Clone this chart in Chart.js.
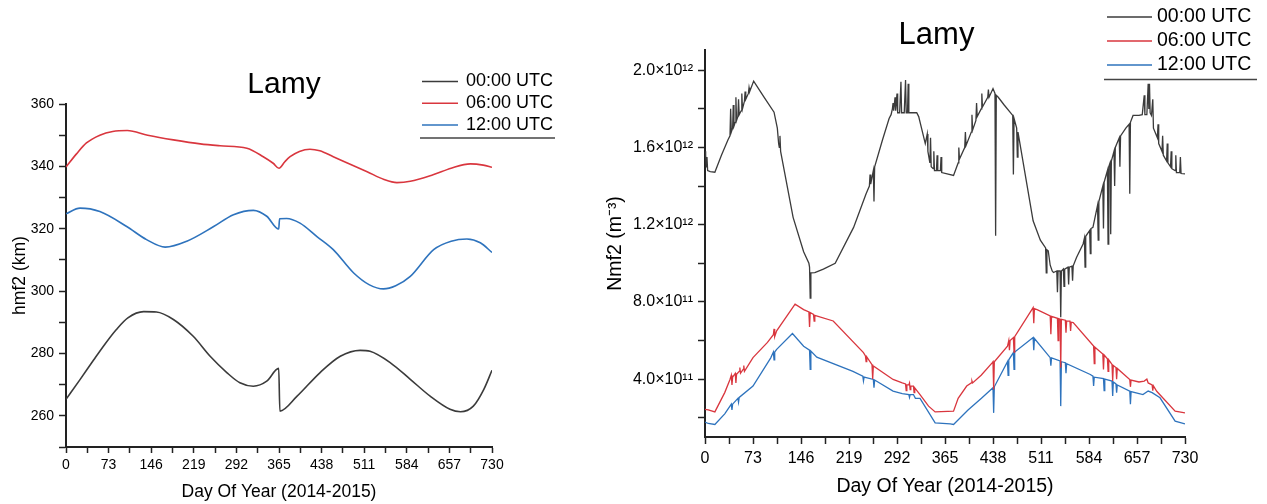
<!DOCTYPE html>
<html>
<head>
<meta charset="utf-8">
<script src="https://cdn.jsdelivr.net/npm/chart.js@4.4.1/dist/chart.umd.min.js"></script>
<style>
  body { margin: 0; background: #fff; }
  #wrap { position: relative; width: 1267px; height: 504px; }
  #hmChart { position: absolute; left: 0; top: 0; }
  #nmChart { position: absolute; left: 600px; top: 0; }
</style>
</head>
<body>
<div id="wrap">
  <canvas id="hmChart" width="600" height="504"></canvas>
  <canvas id="nmChart" width="667" height="504"></canvas>
</div>
<script>
const seriesNames = ['00:00 UTC', '06:00 UTC', '12:00 UTC'];
const seriesColors = ['#3b3b3b', '#d9363e', '#2e73bd'];

const xTickDays = [0, 73, 146, 219, 292, 365, 438, 511, 584, 657, 730];
const hmTicks = [260, 280, 300, 320, 340, 360];
const nmTicks = [4, 8, 12, 16, 20]; // in 1e11 m^-3
const nmTickLabels = ['4.0×10¹¹', '8.0×10¹¹', '1.2×10¹²', '1.6×10¹²', '2.0×10¹²'];

// hmF2 (km)
const hmDays00 = [0, 24, 47, 66, 86, 106, 133, 155, 184, 218, 247, 276, 298, 321, 344, 364.5, 366.5, 396, 435, 470, 504, 521, 556, 590, 624, 658, 676, 698, 716, 730];
const hmVals00 = [265.3, 271.6, 277.8, 282.8, 287.6, 291.4, 293.4, 293.3, 290.9, 285.5, 279.1, 273.8, 270.6, 269.5, 271.1, 275.2, 261.5, 266.3, 273.8, 279.1, 281, 280.7, 277, 271.7, 266.3, 262.1, 261.3, 263.1, 268.5, 274.6];
const hmDays06 = [0, 18, 35, 58, 80, 105, 140, 184, 230, 264, 310, 338, 355, 365, 375, 384, 400, 418, 435, 458, 487, 516, 545, 567, 590, 629, 660, 693, 715, 730];
const hmVals06 = [339.8, 344, 347.5, 350, 351.2, 351.5, 350, 348.5, 347.2, 346.6, 345.8, 343.1, 341, 339.4, 341.5, 343.1, 344.8, 345.5, 345, 343.1, 340.7, 338.3, 335.8, 334.8, 335.2, 337.3, 339.4, 340.8, 340.4, 339.7];
const hmDays12 = [0, 24, 58, 104, 138, 170, 207, 253, 287, 321, 344, 364.5, 366, 378, 401, 430, 458, 493, 520, 544, 565, 590, 630, 660, 687, 710, 730];
const hmVals12 = [324.8, 326.6, 325.5, 320.7, 316.5, 314.1, 316, 320.7, 324.5, 325.9, 324, 319.9, 323.2, 323.3, 321.8, 317.5, 313.3, 305.8, 302, 300.7, 301.7, 304.7, 313.3, 316, 316.7, 315.5, 312.4];

// NmF2, [day, value in 1e12 m^-3]
const nm00 = [[0,1.58],[1,1.56],[2,1.50],[3,1.55],[4,1.48],[8,1.475],[15,1.472],[25,1.56],[35,1.64],[38,1.66],[39,1.80],[40,1.68],[42,1.70],[43,1.82],[44,1.71],[46,1.73],[47,1.86],[48,1.74],[50,1.76],[51,1.85],[52,1.77],[55,1.79],[56,1.88],[57,1.80],[60,1.84],[61,1.89],[62,1.85],[66,1.88],[67,1.91],[68,1.89],[74,1.944],[90,1.86],[105,1.783],[110,1.70],[112,1.62],[113,1.60],[114,1.66],[115,1.58],[134,1.238],[150,1.06],[158,1.0],[159,0.98],[160,0.82],[161,0.95],[167,0.952],[180,0.97],[198,1.0],[226,1.186],[245,1.36],[250,1.40],[251,1.46],[252,1.41],[256,1.48],[257,1.32],[258,1.50],[270,1.64],[280,1.75],[283,1.77],[285,1.80],[286,1.83],[287,1.79],[289,1.86],[290,1.79],[292,1.88],[293,1.78],[296,1.78],[298,1.94],[299,1.78],[303,1.78],[305,1.95],[306,1.78],[308,1.78],[309,1.93],[310,1.78],[314,1.78],[322,1.78],[325,1.76],[335,1.62],[338,1.67],[339,1.58],[342,1.52],[343,1.65],[344,1.50],[347,1.49],[348,1.58],[349,1.48],[352,1.48],[353,1.56],[354,1.48],[358,1.48],[359,1.55],[360,1.47],[378,1.455],[385,1.52],[386,1.60],[387,1.54],[395,1.60],[396,1.68],[397,1.61],[405,1.68],[406,1.77],[407,1.69],[412,1.74],[413,1.83],[414,1.76],[420,1.80],[421,1.88],[422,1.81],[430,1.86],[431,1.90],[432,1.86],[438,1.905],[441,1.88],[442,1.143],[443,1.87],[446,1.86],[455,1.82],[468,1.766],[469,1.46],[470,1.75],[474,1.70],[475,1.55],[476,1.68],[499,1.22],[510,1.12],[518,1.08],[519,0.95],[520,1.07],[522,1.065],[525,0.99],[528,0.96],[530,0.952],[535,0.96],[536,0.85],[537,0.96],[540,0.96],[541,0.72],[542,0.96],[545,0.97],[546,0.88],[547,0.97],[552,0.98],[553,0.89],[554,0.98],[558,0.985],[559,0.91],[560,0.987],[565,1.03],[575,1.10],[577,1.13],[578,0.98],[579,1.14],[585,1.17],[586,1.05],[587,1.18],[590,1.186],[597,1.30],[598,1.12],[599,1.32],[605,1.40],[606,1.18],[607,1.42],[612,1.48],[613,1.10],[614,1.50],[616,1.52],[617,1.15],[618,1.53],[622,1.58],[623,1.40],[624,1.60],[630,1.65],[631,1.50],[632,1.66],[640,1.70],[645,1.72],[646,1.36],[647,1.73],[651,1.766],[660,1.766],[665,1.77],[668,1.87],[669,1.77],[672,1.77],[674,1.93],[675,1.80],[676,1.93],[677,1.78],[679,1.766],[681,1.85],[682,1.70],[688,1.65],[689,1.72],[690,1.62],[695,1.58],[696,1.66],[697,1.56],[702,1.53],[703,1.62],[704,1.52],[708,1.50],[709,1.58],[710,1.49],[715,1.48],[716,1.56],[717,1.47],[722,1.47],[723,1.55],[724,1.465],[730,1.463]];
const nm06 = [[0,0.243],[5,0.24],[15,0.23],[30,0.33],[38,0.398],[40,0.42],[41,0.37],[42,0.41],[46,0.43],[47,0.38],[48,0.425],[52,0.44],[53,0.46],[54,0.43],[58,0.45],[59,0.47],[60,0.44],[73,0.511],[95,0.59],[104,0.63],[105,0.66],[106,0.62],[109,0.65],[137,0.788],[150,0.76],[158,0.748],[159,0.67],[160,0.745],[165,0.735],[166,0.70],[167,0.73],[195,0.701],[241,0.537],[244,0.52],[245,0.49],[246,0.515],[254,0.475],[255,0.40],[256,0.468],[286,0.398],[300,0.38],[305,0.375],[306,0.34],[307,0.37],[310,0.37],[311,0.38],[312,0.345],[313,0.365],[317,0.364],[318,0.33],[319,0.355],[327,0.32],[340,0.26],[350,0.23],[378,0.234],[385,0.30],[398,0.364],[405,0.38],[406,0.39],[407,0.38],[420,0.42],[437,0.485],[438,0.49],[439,0.346],[440,0.49],[460,0.57],[462,0.6],[463,0.55],[464,0.6],[469,0.615],[470,0.54],[471,0.62],[499,0.77],[500,0.69],[501,0.765],[505,0.76],[525,0.727],[526,0.632],[527,0.725],[536,0.715],[537,0.60],[538,0.713],[540,0.71],[541,0.459],[542,0.71],[548,0.705],[549,0.64],[550,0.70],[555,0.70],[556,0.65],[557,0.695],[560,0.693],[591,0.571],[592,0.48],[593,0.565],[605,0.53],[606,0.45],[607,0.525],[612,0.505],[613,0.44],[614,0.5],[619,0.476],[620,0.39],[621,0.47],[625,0.46],[626,0.40],[627,0.455],[646,0.398],[647,0.36],[648,0.395],[660,0.385],[668,0.39],[672,0.40],[674,0.38],[680,0.37],[681,0.34],[682,0.365],[687,0.337],[715,0.234],[730,0.225]];
const nm12 = [[0,0.177],[5,0.17],[15,0.165],[30,0.22],[38,0.26],[40,0.27],[41,0.24],[42,0.27],[50,0.30],[51,0.28],[52,0.305],[73,0.364],[100,0.51],[104,0.54],[105,0.50],[106,0.54],[109,0.554],[133,0.636],[150,0.57],[159,0.55],[160,0.45],[161,0.545],[170,0.514],[225,0.44],[240,0.415],[241,0.39],[242,0.41],[256,0.398],[257,0.355],[258,0.395],[286,0.338],[300,0.325],[310,0.32],[311,0.305],[312,0.32],[317,0.32],[320,0.30],[327,0.30],[350,0.173],[373,0.168],[378,0.165],[400,0.24],[420,0.30],[438,0.355],[439,0.225],[440,0.36],[460,0.49],[461,0.42],[462,0.50],[469,0.537],[470,0.45],[471,0.54],[499,0.615],[500,0.55],[501,0.61],[525,0.511],[526,0.47],[527,0.51],[540,0.494],[541,0.26],[542,0.49],[548,0.485],[549,0.43],[550,0.48],[586,0.424],[590,0.415],[591,0.364],[592,0.41],[606,0.403],[607,0.34],[608,0.40],[619,0.39],[620,0.312],[621,0.385],[625,0.375],[626,0.33],[627,0.37],[646,0.338],[647,0.27],[648,0.335],[666,0.32],[674,0.338],[680,0.33],[692,0.303],[715,0.182],[730,0.168]];

Chart.defaults.font.family = '"Liberation Sans", Arial, sans-serif';
Chart.defaults.color = '#000';

// title "Lamy" + underlined legend, placed like in the figure
const decor = {
    id: 'decor',
    afterDraw(chart, args, o) {
        const ctx = chart.ctx;
        const fam = Chart.defaults.font.family;
        ctx.save();
        ctx.fillStyle = '#000';
        ctx.font = o.titleSize + 'px ' + fam;
        ctx.textAlign = 'center';
        ctx.textBaseline = 'alphabetic';
        ctx.fillText('Lamy', o.titleX, o.titleY);

        ctx.font = o.legendSize + 'px ' + fam;
        ctx.textAlign = 'left';
        ctx.textBaseline = 'middle';
        chart.data.datasets.forEach((ds, i) => {
            const y = o.legendY + i * o.legendGap;
            ctx.strokeStyle = ds.borderColor;
            ctx.lineWidth = 1.5;
            ctx.beginPath();
            ctx.moveTo(o.legendX, y);
            ctx.lineTo(o.legendX + o.lineLen, y);
            ctx.stroke();
            ctx.fillText(ds.label, o.legendX + o.lineLen + o.textGap, y);
        });
        ctx.strokeStyle = '#444';
        ctx.lineWidth = 1.5;
        ctx.beginPath();
        ctx.moveTo(o.ulX1, o.ulY);
        ctx.lineTo(o.ulX2, o.ulY);
        ctx.stroke();
        ctx.restore();
    },
};

const zip = (xs, ys) => xs.map((x, i) => ({ x, y: ys[i] }));
const pairs = (arr) => arr.map(([x, y]) => ({ x, y }));

function axisX(tickSize, titleSize, height, tickLen, tickPad, titlePad) {
    return {
        type: 'linear', min: 0, max: 730,
        afterFit: (s) => { s.height = height; },
        ticks: {
            stepSize: 36.5, autoSkip: false, maxRotation: 0, padding: tickPad,
            font: { size: tickSize },
            callback: (v) => {
                const r = Math.round(v);
                return Math.abs(v - r) < 1e-6 && xTickDays.includes(r) ? String(r) : '';
            },
        },
        grid: { drawOnChartArea: false, tickLength: tickLen, tickColor: '#222', tickWidth: 1.5 },
        border: { color: '#222', width: 2 },
        title: { display: true, text: 'Day Of Year (2014-2015)', font: { size: titleSize }, padding: { top: 0, bottom: titlePad } },
    };
}

new Chart(document.getElementById('hmChart'), {
    type: 'line',
    data: {
        datasets: [
            { label: seriesNames[0], data: zip(hmDays00, hmVals00), borderColor: seriesColors[0] },
            { label: seriesNames[1], data: zip(hmDays06, hmVals06), borderColor: seriesColors[1] },
            { label: seriesNames[2], data: zip(hmDays12, hmVals12), borderColor: seriesColors[2] },
        ],
    },
    options: {
        responsive: false,
        animation: false,
        devicePixelRatio: 1,
        layout: { padding: { left: 0, right: 108, top: 104, bottom: 0 } },
        elements: {
            point: { radius: 0 },
            line: { borderWidth: 1.6, cubicInterpolationMode: 'monotone', fill: false },
        },
        scales: {
            x: axisX(14, 17.5, 57, 6, 4, 1.5),
            y: {
                min: 250, max: 360,
                afterFit: (s) => { s.width = 66; },
                ticks: {
                    stepSize: 10, padding: 5, font: { size: 14 },
                    callback: (v) => (hmTicks.includes(v) ? String(v) : ''),
                },
                grid: { drawOnChartArea: false, tickLength: 7, tickColor: '#222', tickWidth: 1.5 },
                border: { color: '#222', width: 2 },
                title: { display: true, text: 'hmf2 (km)', font: { size: 17.5 }, padding: { top: 9.5, bottom: 0 } },
            },
        },
        plugins: {
            legend: { display: false },
            tooltip: { enabled: false },
            decor: {
                titleSize: 30, titleX: 284, titleY: 93,
                legendSize: 18, legendX: 422, legendY: 81.5, legendGap: 21.7, lineLen: 36, textGap: 8,
                ulX1: 420, ulX2: 555, ulY: 138,
            },
        },
    },
    plugins: [decor],
});

new Chart(document.getElementById('nmChart'), {
    type: 'line',
    data: {
        datasets: [
            { label: seriesNames[0], data: pairs(nm00), borderColor: seriesColors[0] },
            { label: seriesNames[1], data: pairs(nm06), borderColor: seriesColors[1] },
            { label: seriesNames[2], data: pairs(nm12), borderColor: seriesColors[2] },
        ],
    },
    options: {
        responsive: false,
        animation: false,
        devicePixelRatio: 1,
        layout: { padding: { left: 0, right: 82, top: 50, bottom: 0 } },
        elements: {
            point: { radius: 0 },
            line: { borderWidth: 1.3, tension: 0, fill: false },
        },
        scales: {
            x: axisX(16, 19.5, 67, 7, 5, 5.3),
            y: {
                min: 0.1, max: 2.105,
                afterFit: (s) => { s.width = 105; },
                ticks: {
                    stepSize: 0.2, includeBounds: false, padding: 5, font: { size: 16 },
                    callback: (v) => {
                        const i = nmTicks.indexOf(Math.round(v * 10));
                        return i >= 0 ? nmTickLabels[i] : '';
                    },
                },
                grid: { drawOnChartArea: false, tickLength: 7, tickColor: '#222', tickWidth: 1.5 },
                border: { color: '#222', width: 2 },
                title: { display: true, text: 'Nmf2 (m⁻³)', font: { size: 19.5 }, padding: { top: 4.3, bottom: 0 } },
            },
        },
        plugins: {
            legend: { display: false },
            tooltip: { enabled: false },
            decor: {
                titleSize: 31, titleX: 336.5, titleY: 44,
                legendSize: 19.5, legendX: 507, legendY: 17, legendGap: 24, lineLen: 45, textGap: 5,
                ulX1: 504, ulX2: 657, ulY: 79.5,
            },
        },
    },
    plugins: [decor],
});
</script>
</body>
</html>
